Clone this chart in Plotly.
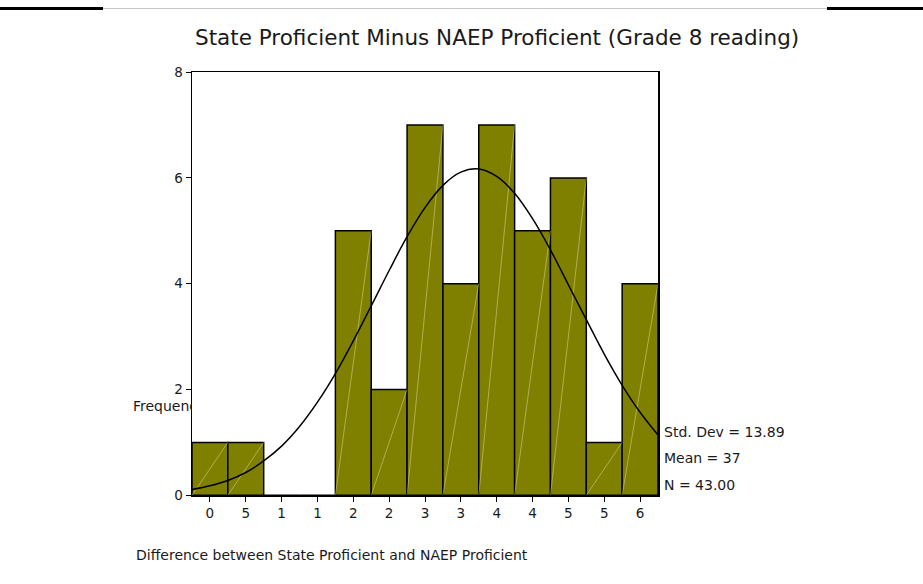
import plotly.graph_objects as go

W, H = 923, 584

# ---- data ----
bin_centers = [0, 5, 10, 15, 20, 25, 30, 35, 40, 45, 50, 55, 60]
counts = [1, 1, 0, 0, 5, 2, 7, 4, 7, 5, 6, 1, 4]
bin_width = 5
tick_labels = ["0", "5", "1", "1", "2", "2", "3", "3", "4", "4", "5", "5", "6"]
curve_x = [-2.5, 0, 2.5, 5, 7.5, 10, 12.5, 15, 17.5, 20, 22.5, 25, 27.5, 30,
           32.5, 35, 37.5, 40, 42.5, 45, 47.5, 50, 52.5, 55, 57.5, 60, 62.5]
curve_y = [0.11, 0.18, 0.28, 0.43, 0.65, 0.93, 1.30, 1.76, 2.30, 2.92, 3.58, 4.25,
           4.89, 5.44, 5.86, 6.11, 6.17, 6.03, 5.71, 5.23, 4.64, 3.98, 3.32, 2.67,
           2.08, 1.57, 1.14]
stats_lines = ["Std. Dev = 13.89", "Mean = 37", "N = 43.00"]
title_text = "State Proficient Minus NAEP Proficient (Grade 8 reading)"
x_title = "Difference between State Proficient and NAEP Proficient"
y_title = "Frequency"

FONT = "DejaVu Sans, Verdana, sans-serif"
TXT = "#1a1a1a"

# plot area in (figure) pixels
PL, PR, PT, PB = 192, 658, 66, 501

def px(x):
    return x / W

def py(y):
    return (H - y) / H

fig = go.Figure()

fig.add_trace(go.Bar(
    x=bin_centers, y=counts, width=bin_width,
    marker=dict(color="#808000", line=dict(color="black", width=1.5)),
    xaxis="x", yaxis="y", showlegend=False, hoverinfo="skip",
))

# faint diagonal hatch line inside each bar (bottom-left to top-right corner)
hx, hy = [], []
for c, n in zip(bin_centers, counts):
    if n > 0:
        hx += [c - bin_width / 2, c + bin_width / 2, None]
        hy += [0, n, None]
fig.add_trace(go.Scatter(
    x=hx, y=hy, mode="lines",
    line=dict(color="rgba(235,235,190,0.55)", width=0.8),
    xaxis="x", yaxis="y", showlegend=False, hoverinfo="skip",
))

fig.add_trace(go.Scatter(
    x=curve_x, y=curve_y, mode="lines",
    line=dict(color="black", width=1.5, shape="spline"),
    xaxis="x", yaxis="y", showlegend=False, hoverinfo="skip",
))

# clipped "Frequency" label to the left of the plot area
fig.add_trace(go.Scatter(
    x=[133], y=[411], mode="text", text=[y_title], textposition="middle right",
    textfont=dict(family=FONT, size=14, color=TXT),
    xaxis="x2", yaxis="y2", cliponaxis=True, showlegend=False, hoverinfo="skip",
))

fig.update_layout(
    width=W, height=H, autosize=False,
    margin=dict(l=0, r=0, t=0, b=0),
    paper_bgcolor="white", plot_bgcolor="white",
    font=dict(family=FONT, color=TXT),
    xaxis=dict(
        domain=[px(PL), px(PR)], anchor="y",
        range=[-2.5, 62.5], tickvals=bin_centers, ticktext=tick_labels,
        ticks="outside", ticklen=5, tickcolor="black", tickwidth=1,
        showline=True, linecolor="black", linewidth=1.5, mirror=True,
        showgrid=False, zeroline=False, tickfont=dict(size=13.5, family=FONT, color=TXT),
        fixedrange=True,
    ),
    yaxis=dict(
        domain=[py(PB), py(PT)], anchor="x",
        range=[0, 8], tickvals=[0, 2, 4, 6, 8],
        ticks="outside", ticklen=5, tickcolor="black", tickwidth=1,
        showline=True, linecolor="black", linewidth=1.5, mirror=True,
        showgrid=False, zeroline=False, tickfont=dict(size=13.5, family=FONT, color=TXT),
        fixedrange=True,
    ),
    xaxis2=dict(domain=[0, px(PL)], range=[0, PL], visible=False, anchor="y2",
                fixedrange=True),
    yaxis2=dict(domain=[0, 1], range=[H, 0], visible=False, anchor="x2",
                fixedrange=True),
    bargap=0,
)

# title
fig.add_annotation(x=px(497), y=py(30), xref="paper", yref="paper",
                   text=title_text, showarrow=False, xanchor="center",
                   yanchor="middle", font=dict(family=FONT, size=21.5, color=TXT))
# x axis title
fig.add_annotation(x=px(134), y=py(562), xref="paper", yref="paper",
                   text=x_title, showarrow=False, xanchor="left",
                   yanchor="middle", font=dict(family=FONT, size=14, color=TXT))
# stats
for s, yy in zip(stats_lines, [435.5, 463, 490]):
    fig.add_annotation(x=px(662), y=py(yy), xref="paper", yref="paper",
                       text=s, showarrow=False, xanchor="left", yanchor="middle",
                       font=dict(family=FONT, size=14, color=TXT))

# top rules
fig.add_shape(type="line", xref="paper", yref="paper", x0=0, x1=px(103),
              y0=py(0.5), y1=py(0.5), line=dict(color="black", width=3))
fig.add_shape(type="line", xref="paper", yref="paper", x0=px(103), x1=px(827),
              y0=py(0.5), y1=py(0.5), line=dict(color="#c8c8c8", width=1))
fig.add_shape(type="line", xref="paper", yref="paper", x0=px(827), x1=1,
              y0=py(0.5), y1=py(0.5), line=dict(color="black", width=3))

PIN = (
    "document.documentElement.style.margin='0';"
    "document.body.style.margin='0';"
    "document.documentElement.style.overflow='hidden';"
    "document.body.style.overflow='hidden';"
    "var gd=document.getElementById('{plot_id}');"
    "gd.style.position='fixed';gd.style.left='0px';gd.style.top='0px';"
)

fig.write_html(
    "out.html",
    config={"displayModeBar": False, "responsive": False, "staticPlot": True},
    post_script=PIN,
)
